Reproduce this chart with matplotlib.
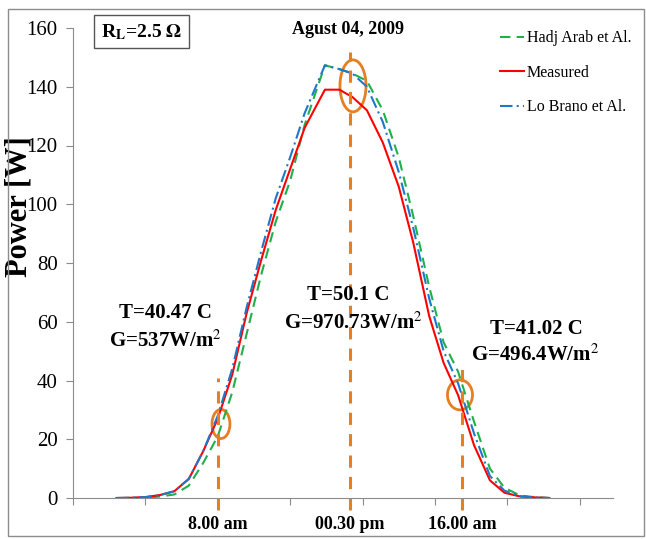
import matplotlib
matplotlib.use('Agg')
import matplotlib.pyplot as plt
from matplotlib.patches import Ellipse, Rectangle

plt.rcParams['font.family'] = ['Liberation Serif', 'DejaVu Serif']
plt.rcParams['mathtext.fontset'] = 'stix'

# sample positions along the day (category units, 5 per tick)
x = [3, 4, 5, 6, 7, 8, 9, 10, 11, 12, 13, 14, 15, 16, 17.4, 18.4, 19.3, 20.3,
     21.4, 22.5, 23.5, 24.6, 25.6, 26.6, 27.7, 28.8, 29.8, 30.9, 31.9, 32.9]

measured = [0, 0.1, 0.3, 1.0, 2.3, 6.5, 16, 27, 42, 63, 81, 98, 112, 126, 139, 139,
            136.5, 132, 121, 106, 87, 62, 46, 35, 18, 6, 1.8, 0.5, 0.2, 0]
hadj_arab = [0, 0, 0.1, 0.5, 1.2, 4.2, 12, 21, 36, 56, 76, 94, 108, 127, 147.3, 146,
             144.5, 142, 132, 116, 96, 72, 53, 43, 26, 10, 3.5, 0.8, 0.3, 0]
lo_brano = [0, 0.1, 0.3, 1.0, 2.3, 6.5, 16, 28, 44, 65, 84, 102, 116, 131, 147.3, 146,
            144.5, 140, 128, 111, 92, 68, 50, 39, 22, 7.5, 2.5, 0.6, 0.2, 0]

# marked instants: position, label, T, G
mark_x = [10.0, 19.13, 26.87]
mark_labels = ['8.00 am', '00.30 pm', '16.00 am']
mark_T = ['T=40.47 C', 'T=50.1 C', 'T=41.02 C']
mark_G = ['G=537W/m$^2$', 'G=970.73W/m$^2$', 'G=496.4W/m$^2$']

orange = '#E67E22'

fig = plt.figure(figsize=(6.46, 5.39), dpi=100)
fig.patches.append(Rectangle((8 / 646, 3 / 539), 636 / 646, 527 / 539, transform=fig.transFigure,
                             fill=False, edgecolor='#8c8c8c', linewidth=1.0))
ax = fig.add_axes([73 / 646, 41 / 539, 540 / 646, 470 / 539])

ax.plot(x, hadj_arab, color='#1FAF4B', linestyle=(0, (5, 3)), linewidth=1.5, label='Hadj Arab et Al.')
ax.plot(x, measured, color='#FF0000', linewidth=1.5, label='Measured')
ax.plot(x, lo_brano, color='#1F77C8', linestyle=(0, (6, 2, 1, 2)), linewidth=1.5, label='Lo Brano et Al.')

ax.set_xlim(0, 37.3)
ax.set_ylim(0, 160)
ax.set_yticks(range(0, 161, 20))
ax.set_xticks(range(0, 36, 5))
ax.set_xticklabels([])
ax.tick_params(axis='y', direction='out', length=5, color='#8c8c8c', labelsize=15, pad=6)
ax.tick_params(axis='x', direction='out', length=5, color='#8c8c8c')
for s in ['top', 'right']:
    ax.spines[s].set_visible(False)
for s in ['left', 'bottom']:
    ax.spines[s].set_color('#8c8c8c')
ax.set_ylabel('Power [W]', fontsize=22, fontweight='bold')
ax.yaxis.set_label_coords(-0.074, 0.62)

# dashed markers, ellipses and annotation text
tops = [41, 152, 46]
ell = [(10.22, 25.2, 1.24, 9.9), (19.34, 140.3, 1.8, 17.7), (26.73, 35.1, 1.73, 10.2)]
for i in range(3):
    ax.plot([mark_x[i], mark_x[i]], [-4, tops[i]], color=orange, linestyle=(0, (4, 3)),
            linewidth=2.2, clip_on=False)
    cx, cy, w, h = ell[i]
    ax.add_patch(Ellipse((cx, cy), w, h, fill=False, edgecolor=orange, linewidth=2, clip_on=False))
    ax.text(mark_x[i], -9, mark_labels[i], ha='center', va='center', fontsize=13,
            fontweight='bold', clip_on=False)

ax.text(6.4, 63, mark_T[0], ha='center', va='center', fontsize=15, fontweight='bold')
ax.text(6.4, 53.5, mark_G[0], ha='center', va='center', fontsize=15, fontweight='bold')
ax.text(19.0, 69, mark_T[1], ha='center', va='center', fontsize=15, fontweight='bold')
ax.text(19.4, 59.5, mark_G[1], ha='center', va='center', fontsize=15, fontweight='bold')
ax.text(32.0, 57.5, mark_T[2], ha='center', va='center', fontsize=15, fontweight='bold')
ax.text(31.9, 48.5, mark_G[2], ha='center', va='center', fontsize=15, fontweight='bold')

ax.text(19.0, 159.5, 'Agust 04, 2009', ha='center', va='center', fontsize=13, fontweight='bold')
ax.text(4.75, 158.7, r'R$_\mathbf{L}$=2.5 $\mathbf{\Omega}$', ha='center', va='center', fontsize=14,
        fontweight='bold', bbox=dict(boxstyle='square,pad=0.35', facecolor='white', edgecolor='#555555'))

ax.legend(loc='upper left', bbox_to_anchor=(486 / 646, 1 - 16 / 539), bbox_transform=fig.transFigure,
          frameon=False, fontsize=11.5, handlelength=1.5, handletextpad=0.15, labelspacing=1.15)

fig.savefig('out.png', dpi=100)
